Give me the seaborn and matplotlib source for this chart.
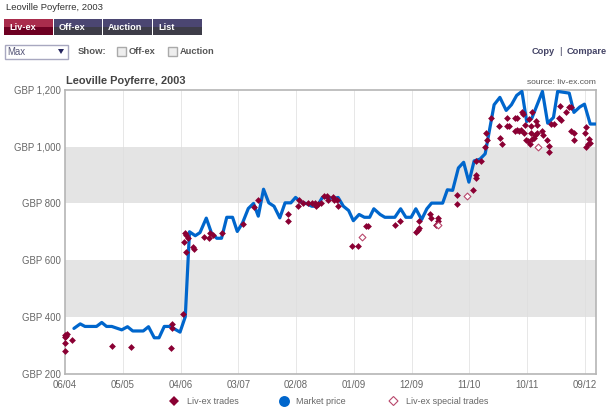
import matplotlib
matplotlib.use('Agg')
import seaborn as sns
import pandas as pd
import matplotlib.pyplot as plt
from matplotlib.patches import Rectangle, Polygon

# months counted from 06/04
price_month = [1.7, 2.9, 3.8, 6, 7, 7.9, 8.9, 10.8, 11.9, 12.9, 14.9, 15.9, 17, 17.9, 18.9, 20, 21.9, 22.9,
               23.7, 24.8, 25.7, 26.9, 27.9, 28.9, 29.8, 30.8, 31.9, 32.8, 33.8, 34.9, 35.9, 36.8, 37.8,
               38.8, 39.8, 40.9, 41.9, 43, 43.9, 44.9, 46, 47, 48, 49, 50.1, 51.1, 52, 53, 54, 54.9, 56,
               57, 58, 58.8, 60, 60.9, 62.8, 63.9, 64.9, 65.9, 66.8, 67.9, 68.9, 69.8, 71.9, 72.8, 73.8,
               74.9, 75.9, 76.9, 77.9, 79, 80, 81.7, 82.8, 84, 85, 86, 87, 87.9, 88.9, 90.9, 91.9, 93,
               93.8, 94.9, 96, 96.9, 98, 98.9, 100, 101]
price_value = [359, 375, 366, 366, 380, 366, 366, 354, 365, 350, 350, 365, 326, 326, 366, 366, 346, 400,
               700, 686, 697, 748, 695, 677, 677, 751, 751, 701, 731, 782, 800, 755, 850,
               802, 790, 749, 802, 802, 821, 805, 799, 790, 790, 821, 821, 817, 821, 790, 775, 739, 761,
               751, 751, 781, 761, 751, 751, 781, 751, 751, 781, 743, 781, 801, 801, 848, 846,
               925, 945, 875, 950, 956, 975, 1148, 1174, 1128, 1148, 1181, 1195, 1089, 1101, 1195, 1083, 1103,
               1195, 1192, 1189, 1121, 1140, 1150, 1080, 1080]

trade_month = [0, 0.3, 0.1, 0, 0, 0, 1.3, 8.9, 12.5, 20.2, 20.4, 20.3, 22.5, 22.8, 22.6, 23, 23, 23.4, 24.3, 24.6,
               26.5, 27.4, 27.6, 28.1, 29.8, 33.8, 36, 36.8, 42.5, 42.5, 44.3, 44.6, 45.3, 46.3, 47, 47.6, 47.8,
               48.2, 48.7, 49.3, 49.8, 50.1, 51, 51.3, 51.7, 51.9, 54.6, 55.7, 57.3, 57.6, 62.8, 63.8, 66.8, 67.2,
               67.4, 67.4, 69.4, 69.6, 71.1, 71.1, 70.6, 74.7, 74.7, 77.6, 78.2, 78.2, 78.3, 79.2, 80, 80.4, 80.2,
               81.1, 82.7, 82.9, 83.2, 84.2, 84.1, 84.6, 85.7, 86.1, 85.6, 86, 86.5, 86.8, 87, 87.2, 87.5, 87.3,
               87.8, 88.3, 88.9, 88.7, 88.7, 88.2, 88.6, 88.9, 89.3, 89.5, 89.7, 89.8, 89.8, 90.8, 91, 91.7, 92.1,
               92.2, 92.5, 93.1, 94.3, 94.1, 94.5, 95.3, 95.9, 96.3, 96.3, 96.9, 97, 99.2, 99, 99.7, 100, 99.5, 99.2]
trade_value = [335, 338, 332, 329, 306, 281, 319, 296, 294, 289, 374, 360, 409, 697, 663, 629, 688, 679, 647, 639,
               682, 679, 694, 687, 694, 727, 787, 811, 761, 739, 790, 812, 802, 800, 802, 800, 790,
               799, 802, 826, 826, 811, 821, 812, 812, 790, 650, 650, 720, 720, 725, 739, 699, 707,
               713, 739, 763, 748, 750, 739, 725, 831, 799, 849, 901, 889, 951, 951, 999, 1023, 1050,
               1100, 1074, 1029, 1009, 1100, 1074, 1073, 1100, 1100, 1054, 1060, 1054, 1060, 1122, 1116, 1078, 1050,
               1025, 1098, 1122, 1074, 1050, 1021, 1011, 1027, 1031, 1042, 1089, 1078, 1050, 1054, 1042, 1025, 1001,
               980, 1080, 1080, 1145, 1101, 1093, 1121, 1140, 1140, 1056, 1050, 1025, 1069, 1050, 1027, 1013, 1009, 998]

special_month = [56.5, 71, 76.5, 90.1]
special_value = [680, 725, 825, 1000]

x_tick_pos = [0, 11, 22, 33, 44, 55, 66, 77, 88, 99]
x_tick_labels = ['06/04', '05/05', '04/06', '03/07', '02/08', '01/09', '12/09', '11/10', '10/11', '09/12']
y_ticks = [200, 400, 600, 800, 1000, 1200]
y_tick_labels = ['GBP 200', 'GBP 400', 'GBP 600', 'GBP 800', 'GBP 1,000', 'GBP 1,200']
tabs = ['Liv-ex', 'Off-ex', 'Auction', 'List']

W, H = 611, 417
GREY = '#666666'
sns.set_style('white')
plt.rcParams['font.family'] = ['Liberation Sans', 'DejaVu Sans']

fig = plt.figure(figsize=(W / 100, H / 100), dpi=100)
ax = fig.add_axes([65 / W, 1 - 373.5 / H, 531 / W, 283.5 / H])

prices = pd.DataFrame({'month': price_month, 'value': price_value})
trades = pd.DataFrame({'month': trade_month, 'value': trade_value})
specials = pd.DataFrame({'month': special_month, 'value': special_value})

ax.axhspan(400, 600, color='#e4e4e4', lw=0, zorder=0)
ax.axhspan(800, 1000, color='#e4e4e4', lw=0, zorder=0)
for m in x_tick_pos[1:]:
    ax.axvline(m, color='#dddddd', lw=0.7, alpha=0.7, zorder=0.5)

sns.lineplot(data=prices, x='month', y='value', ax=ax, color='#0066cc', lw=2.3, zorder=2,
             label='Market price')
sns.scatterplot(data=trades, x='month', y='value', ax=ax, color='#8a0033', marker='D', s=12, lw=0, zorder=3,
                label='Liv-ex trades', clip_on=False)
sns.scatterplot(data=specials, x='month', y='value', ax=ax, facecolor='white', edgecolor='#b8486c', marker='D',
                s=12, lw=0.8, zorder=3, label='Liv-ex special trades')

ax.set_xlim(0, 101.1)
ax.set_ylim(200, 1200)
ax.set_xticks(x_tick_pos)
ax.set_xticklabels(x_tick_labels)
ax.set_yticks(y_ticks)
ax.set_yticklabels(y_tick_labels)
ax.set_xlabel('')
ax.set_ylabel('')
ax.tick_params(axis='both', length=0, labelsize=6.9, labelcolor=GREY)
ax.tick_params(axis='x', pad=5)
ax.tick_params(axis='y', pad=3)
for side, spine in ax.spines.items():
    spine.set_color('#b5b5b5')
    spine.set_linewidth(1.2)
    spine.set_zorder(1)

ax.get_legend().remove()
h, l = ax.get_legend_handles_labels()
order = [l.index('Liv-ex trades'), l.index('Market price'), l.index('Liv-ex special trades')]

# page furniture drawn in pixel coordinates
ui = fig.add_axes([0, 0, 1, 1], zorder=-1)
ui.set_xlim(0, W)
ui.set_ylim(H, 0)
ui.axis('off')

# legend
ui.add_patch(Polygon([[169, 401], [174, 396], [179, 401], [174, 406]], color='#8a0033', lw=0))
ui.scatter([284], [401], s=62, color='#0066cc', lw=0)
ui.add_patch(Polygon([[389, 401], [393.5, 396.5], [398, 401], [393.5, 405.5]], fc='white', ec='#b8486c', lw=0.8))
for x, label in zip([187, 296, 406], [l[i] for i in order]):
    ui.text(x, 401, label, fontsize=6.5, color=GREY, va='center')

ui.text(5.5, 7, 'Leoville Poyferre, 2003', fontsize=6.8, color='#333333', va='center')
tab_x = [4, 54, 103, 153]
tab_w = [49, 48, 49, 49]
for i, (x, w, name) in enumerate(zip(tab_x, tab_w, tabs)):
    top, low = ('#a92c4c', '#6e0022') if i == 0 else ('#4b4672', '#3d3c48')
    ui.add_patch(Rectangle((x, 19), w, 8, color=top, lw=0))
    ui.add_patch(Rectangle((x, 27), w, 8, color=low, lw=0))
    ui.text(x + 5, 27.5, name, fontsize=6.6, color='white', weight='bold', va='center')

ui.add_patch(Rectangle((4.5, 44.5), 63, 14, fc='white', ec='#a8a8c0', lw=1))
ui.text(7, 51.5, 'Max', fontsize=6.9, color='#555577', va='center')
ui.add_patch(Polygon([[58, 49], [64, 49], [61, 54]], color='#26265e', lw=0))
ui.text(78, 51.5, 'Show:', fontsize=6.8, color='#555555', weight='bold', va='center')
for x, name in zip([117, 168], ['Off-ex', 'Auction']):
    ui.add_patch(Rectangle((x, 46.5), 8.5, 9, fc='#eeeeee', ec='#aaaaaa', lw=1))
    ui.text(x + 12, 51.5, name, fontsize=6.7, color='#555555', weight='bold', va='center')
ui.text(532, 51.5, 'Copy', fontsize=6.7, color='#444466', weight='bold', va='center')
ui.text(559.5, 51.5, '|', fontsize=6.7, color='#333355', va='center')
ui.text(567, 51.5, 'Compare', fontsize=6.7, color='#444466', weight='bold', va='center')

ui.text(66.5, 81, 'Leoville Poyferre, 2003', fontsize=7.9, color='#444444', weight='bold', va='center')
ui.text(596, 82.5, 'source: liv-ex.com', fontsize=6.1, color='#555555', ha='right', va='center')

fig.savefig('out.png', dpi=100)
